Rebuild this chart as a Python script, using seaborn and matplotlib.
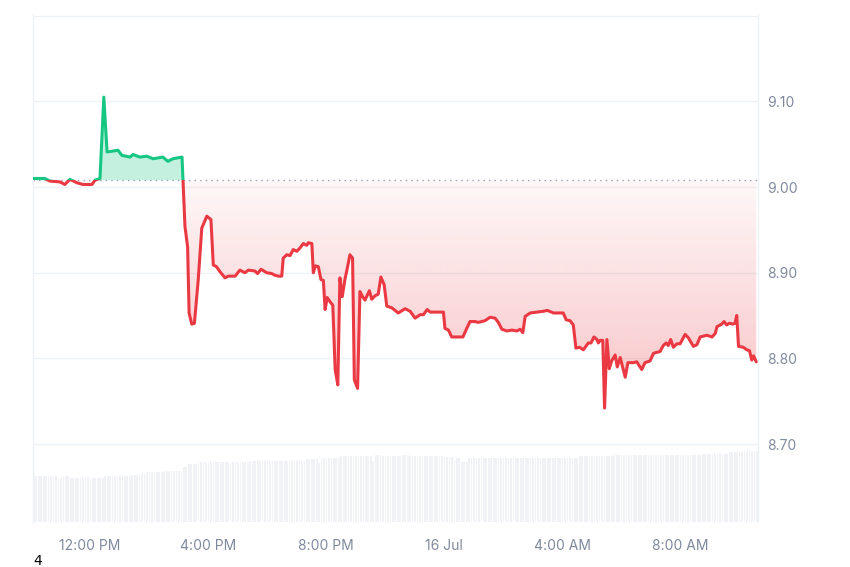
import numpy as np
import pandas as pd
import matplotlib
matplotlib.use("Agg")
import matplotlib.pyplot as plt
from matplotlib.patches import Rectangle
from matplotlib.path import Path
from matplotlib.colors import to_rgb
import seaborn as sns

# time in hours from 15 Jul 00:00, price
hours = [
    10.07, 10.47, 10.64, 10.98, 11.15, 11.32, 11.56, 11.76, 12.07, 12.17,
    12.34, 12.47, 12.58, 12.78, 12.95, 13.08, 13.36, 13.46, 13.69, 13.93,
    14.14, 14.31, 14.47, 14.64, 14.81, 15.12, 15.22, 15.31, 15.36, 15.45,
    15.54, 15.67, 15.79, 15.96, 16.10, 16.18, 16.29, 16.41, 16.58, 16.69,
    16.92, 17.08, 17.25, 17.37, 17.59, 17.68, 17.80, 17.99, 18.16, 18.27,
    18.38, 18.50, 18.55, 18.67, 18.78, 18.89, 19.01, 19.12, 19.23, 19.35,
    19.40, 19.52, 19.57, 19.64, 19.74, 19.83, 19.91, 19.97, 20.04, 20.14,
    20.23, 20.31, 20.40, 20.47, 20.55, 20.64, 20.72, 20.81, 20.90, 20.96,
    21.07, 21.15, 21.24, 21.32, 21.47, 21.55, 21.66, 21.77, 21.86, 21.97,
    22.06, 22.23, 22.45, 22.68, 22.85, 23.02, 23.19, 23.30, 23.43, 23.53,
    23.98, 24.03, 24.15, 24.26, 24.48, 24.64, 24.77, 24.88, 25.05, 25.16,
    25.39, 25.56, 25.73, 25.84, 25.96, 26.13, 26.30, 26.47, 26.58, 26.67,
    26.75, 26.92, 27.14, 27.37, 27.50, 27.71, 28.04, 28.14, 28.27, 28.38,
    28.47, 28.59, 28.72, 28.89, 28.98, 29.08, 29.18, 29.23, 29.29, 29.38,
    29.44, 29.52, 29.60, 29.68, 29.80, 29.87, 29.97, 30.14, 30.23, 30.42,
    30.53, 30.70, 30.81, 30.98, 31.10, 31.32, 31.43, 31.53, 31.60, 31.68,
    31.77, 31.89, 32.00, 32.17, 32.28, 32.45, 32.57, 32.68, 32.91, 33.08,
    33.19, 33.25, 33.41, 33.49, 33.58, 33.67, 33.79, 33.86, 33.92, 33.98,
    34.14, 34.26, 34.35, 34.43, 34.49, 34.58,
]
prices = [
    9.010, 9.010, 9.007, 9.006, 9.003, 9.009, 9.005, 9.003, 9.003, 9.008,
    9.010, 9.105, 9.041, 9.042, 9.043, 9.037, 9.035, 9.038, 9.035, 9.036,
    9.033, 9.034, 9.035, 9.030, 9.033, 9.035, 8.954, 8.930, 8.853, 8.840,
    8.841, 8.892, 8.952, 8.966, 8.962, 8.909, 8.907, 8.901, 8.894, 8.896,
    8.896, 8.903, 8.900, 8.903, 8.902, 8.899, 8.904, 8.900, 8.899, 8.897,
    8.896, 8.896, 8.917, 8.921, 8.920, 8.927, 8.925, 8.929, 8.934, 8.932,
    8.935, 8.934, 8.900, 8.908, 8.907, 8.892, 8.891, 8.857, 8.871, 8.866,
    8.862, 8.787, 8.769, 8.894, 8.872, 8.892, 8.905, 8.921, 8.917, 8.775,
    8.765, 8.878, 8.872, 8.868, 8.879, 8.869, 8.873, 8.875, 8.895, 8.886,
    8.861, 8.859, 8.853, 8.858, 8.855, 8.847, 8.851, 8.851, 8.857, 8.854,
    8.854, 8.835, 8.833, 8.825, 8.825, 8.825, 8.835, 8.843, 8.843, 8.842,
    8.844, 8.848, 8.847, 8.842, 8.834, 8.832, 8.833, 8.832, 8.834, 8.830,
    8.849, 8.853, 8.854, 8.855, 8.856, 8.853, 8.853, 8.845, 8.844, 8.839,
    8.812, 8.813, 8.810, 8.818, 8.818, 8.825, 8.822, 8.818, 8.821, 8.821,
    8.742, 8.822, 8.788, 8.797, 8.804, 8.790, 8.801, 8.778, 8.795, 8.795,
    8.796, 8.787, 8.795, 8.797, 8.806, 8.808, 8.815, 8.818, 8.815, 8.822,
    8.813, 8.817, 8.817, 8.828, 8.824, 8.814, 8.816, 8.825, 8.827, 8.825,
    8.829, 8.837, 8.840, 8.843, 8.839, 8.841, 8.840, 8.841, 8.850, 8.814,
    8.813, 8.810, 8.809, 8.798, 8.803, 8.796,
]
baseline = 9.008

# 5-minute volume bars (relative units)
volume = [
    46, 46, 46, 46, 46, 46, 46, 46, 46, 46, 44, 44, 46, 46, 46, 44, 44, 44, 44, 44,
    45, 45, 45, 44, 44, 44, 44, 44, 44, 46, 46, 46, 46, 46, 46, 46, 46, 46, 46, 46,
    47, 47, 47, 47, 49, 49, 50, 50, 50, 50, 50, 50, 50, 51, 51, 51, 51, 51, 51, 51,
    51, 55, 55, 58, 58, 58, 58, 60, 60, 60, 60, 60, 60, 60, 60, 60, 60, 60, 60, 60,
    60, 60, 60, 60, 60, 60, 60, 60, 61, 61, 61, 61, 61, 61, 61, 61, 61, 61, 61, 61,
    61, 61, 61, 61, 61, 61, 61, 61, 61, 61, 61, 63, 63, 63, 63, 63, 59, 64, 64, 64,
    64, 64, 64, 64, 64, 66, 66, 66, 66, 66, 66, 66, 66, 66, 66, 66, 66, 66, 61, 67,
    67, 67, 66, 66, 66, 66, 66, 66, 66, 66, 67, 67, 67, 66, 66, 66, 66, 66, 66, 66,
    66, 66, 66, 66, 66, 66, 66, 65, 65, 65, 65, 61, 64, 64, 60, 60, 60, 64, 64, 64,
    64, 64, 64, 64, 64, 64, 64, 64, 64, 64, 64, 64, 64, 64, 64, 64, 64, 64, 64, 64,
    64, 64, 64, 64, 64, 64, 64, 64, 64, 64, 64, 64, 64, 64, 64, 64, 64, 64, 64, 64,
    64, 64, 66, 66, 66, 66, 66, 66, 66, 66, 66, 66, 66, 66, 66, 66, 67, 67, 67, 67,
    67, 67, 67, 67, 67, 67, 67, 67, 67, 67, 67, 67, 67, 67, 67, 67, 67, 67, 67, 67,
    67, 67, 67, 67, 67, 67, 67, 67, 67, 67, 67, 67, 68, 68, 68, 68, 68, 68, 68, 68,
    68, 68, 68, 70, 70, 70, 70, 70, 70, 71, 71, 71, 71, 71, 71,
]
bar_start = 10.10
bar_step = 5 / 60

tick_hours = [12, 16, 20, 24, 28, 32]
tick_labels = ["12:00 PM", "4:00 PM", "8:00 PM", "16 Jul", "4:00 AM", "8:00 AM"]
price_ticks = [8.70, 8.80, 8.90, 9.00, 9.10]

sns.set_style("white")
plt.rcParams["font.family"] = ["Inter", "DejaVu Sans"]

green = "#16c784"
red = "#ea3943"
grey = "#808a9d"
grid_col = "#eff2f5"

df = pd.DataFrame({"hour": hours, "price": prices})
p = np.array(prices)
bar_hours = bar_start + np.arange(len(volume)) * bar_step

x0, x1 = 10.07, 34.64
y0, y1 = 8.609, 9.202

fig = plt.figure(figsize=(8.5, 5.67), dpi=100)
ax = fig.add_axes([33 / 850, 1 - 522 / 567, (758 - 33) / 850, (522 - 14) / 567])

# volume underneath
vax = ax.twinx()
vax.bar(bar_hours, volume, width=bar_step * 0.7, color="#f0f2f5", linewidth=0)
vax.set_ylim(0, 508)
vax.axis("off")
ax.set_zorder(vax.get_zorder() + 1)
ax.patch.set_visible(False)

# fills
ax.fill_between(hours, prices, baseline, where=p >= baseline, interpolate=True,
                color=green, alpha=0.25, lw=0)
red_poly = ax.fill_between(hours, prices, baseline, where=p <= baseline,
                           interpolate=True, facecolor="none", lw=0)
clip = Path.make_compound_path(*red_poly.get_paths())
n = 256
rgba = np.zeros((n, 1, 4))
rgba[..., :3] = to_rgb(red)
rgba[:, 0, 3] = np.linspace(0.30, 0.04, n)
im = ax.imshow(rgba, extent=[x0, x1, p.min(), baseline], origin="lower",
               aspect="auto", zorder=1, interpolation="bilinear")
im.set_clip_path(clip, ax.transData)

# price line, green above the open, red below
sns.lineplot(data=df, x="hour", y="price", color=green, lw=2.2, sort=False,
             estimator=None, ax=ax, zorder=3)
ax.lines[-1].set_clip_path(Rectangle((x0, baseline), x1 - x0, 1, transform=ax.transData))
sns.lineplot(data=df, x="hour", y="price", color=red, lw=2.2, sort=False,
             estimator=None, ax=ax, zorder=3)
ax.lines[-1].set_clip_path(Rectangle((x0, baseline - 1), x1 - x0, 1, transform=ax.transData))

ax.axhline(baseline, color="#9aa3b2", lw=1, ls=(0, (1, 3)), zorder=2)
ax.axhline(9.20, color=grid_col, lw=1, zorder=0)

ax.set_xlim(x0, x1)
ax.set_ylim(y0, y1)
ax.yaxis.tick_right()
ax.set_yticks(price_ticks)
ax.set_yticklabels([f"{v:.2f}" for v in price_ticks])
ax.set_xticks(tick_hours)
ax.set_xticklabels(tick_labels)
ax.tick_params(axis="y", length=0, pad=6.5, labelcolor=grey, labelsize=10)
ax.tick_params(axis="x", length=0, pad=12, labelcolor=grey, labelsize=10)
ax.set_xlabel("")
ax.set_ylabel("")
ax.grid(axis="y", color=grid_col, lw=1)
ax.grid(axis="x", visible=False)
ax.set_axisbelow(True)
for side in ["top", "bottom"]:
    ax.spines[side].set_visible(False)
for side in ["left", "right"]:
    ax.spines[side].set_color(grid_col)
    ax.spines[side].set_linewidth(1)

fig.text(38 / 850, 1 - 561 / 567, "4", fontsize=10, color="black",
         ha="center", va="center", family="DejaVu Sans")

fig.savefig("out.png", dpi=100)
